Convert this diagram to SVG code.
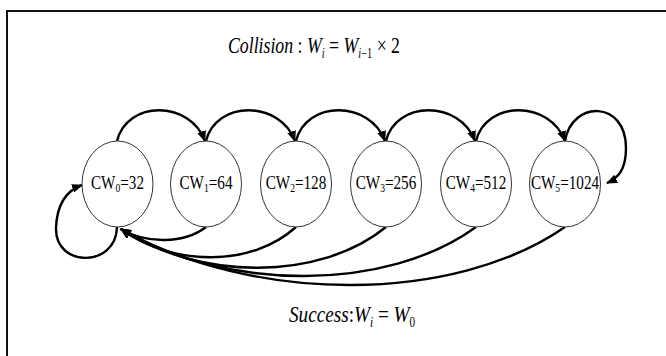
<svg xmlns="http://www.w3.org/2000/svg" width="666" height="356" viewBox="0 0 666 356">
<style>
.node ellipse{fill:#fff;stroke:#333;stroke-width:1}
.node text{font-family:"Liberation Serif","Times New Roman",serif;font-size:19px;fill:#000;text-anchor:middle}
.edge{fill:none;stroke:#000;stroke-width:2.4;marker-end:url(#ah)}
.math{font-family:"Liberation Serif","Times New Roman",serif;font-size:24px;fill:#000}
.frame{stroke:#111;stroke-width:2;fill:none}
</style>
<defs>
<marker id="ah" markerUnits="userSpaceOnUse" markerWidth="11" markerHeight="9" refX="10" refY="4.5" orient="auto">
<path d="M0,0 L11,4.5 L0,9 z" fill="#000"/>
</marker>
</defs>
<rect width="666" height="356" fill="#fff"/>
<path class="frame" d="M7,360 L7,11 L670,11"/>
<text class="math" transform="translate(228,53) scale(0.74,1)"><tspan font-style="italic">Collision</tspan><tspan> : </tspan><tspan font-style="italic">W</tspan><tspan font-size="14" font-style="italic" dy="5">i</tspan><tspan dy="-5"> = </tspan><tspan font-style="italic">W</tspan><tspan font-size="14" dy="5"><tspan font-style="italic">i</tspan>−1</tspan><tspan dy="-5"> × 2</tspan></text>
<text class="math" transform="translate(289,322) scale(0.8,1)"><tspan font-style="italic">Success</tspan><tspan>:</tspan><tspan font-style="italic">W</tspan><tspan font-size="14" font-style="italic" dy="5">i</tspan><tspan dy="-5"> = </tspan><tspan font-style="italic">W</tspan><tspan font-size="14" dy="5">0</tspan></text>
<g id="connectors">
<path class="edge" d="M117,141 C127,100 190,100 205,141"/>
<path class="edge" d="M206,141 C216,100 280,100 295,141"/>
<path class="edge" d="M296,141 C306,100 370,100 385,141"/>
<path class="edge" d="M386,141 C396,100 460,100 475,141"/>
<path class="edge" d="M476,141 C486,100 550,100 565,141"/>
<path class="edge" d="M565,141 C572,100 626,100 626,148 C626,170 618,178 607,183"/>
<path class="edge" d="M117,227 C116,268 55,268 56,228 C57,202 68,190 82,185"/>
<path class="edge" d="M206,227 C184,244 146,244 121,229"/>
<path class="edge" d="M296,227 C252,267 173,267 121,229"/>
<path class="edge" d="M386,227 C320,281 200,281 121,229"/>
<path class="edge" d="M476,227 C387,292 226,292 121,229"/>
<path class="edge" d="M565,227 C454,304 254,304 121,229"/>
</g>
<g id="n0" class="node"><ellipse cx="117.5" cy="184" rx="35.5" ry="43"/><text transform="translate(117.5,189) scale(0.8,1)">CW<tspan font-size="12" dy="3">0</tspan><tspan dy="-3">=32</tspan></text></g>
<g id="n1" class="node"><ellipse cx="206" cy="184" rx="35.5" ry="43"/><text transform="translate(206,189) scale(0.8,1)">CW<tspan font-size="12" dy="3">1</tspan><tspan dy="-3">=64</tspan></text></g>
<g id="n2" class="node"><ellipse cx="296" cy="184" rx="35.5" ry="43"/><text transform="translate(296,189) scale(0.8,1)">CW<tspan font-size="12" dy="3">2</tspan><tspan dy="-3">=128</tspan></text></g>
<g id="n3" class="node"><ellipse cx="386" cy="184" rx="35.5" ry="43"/><text transform="translate(386,189) scale(0.8,1)">CW<tspan font-size="12" dy="3">3</tspan><tspan dy="-3">=256</tspan></text></g>
<g id="n4" class="node"><ellipse cx="476" cy="184" rx="35.5" ry="43"/><text transform="translate(476,189) scale(0.8,1)">CW<tspan font-size="12" dy="3">4</tspan><tspan dy="-3">=512</tspan></text></g>
<g id="n5" class="node"><ellipse cx="565" cy="184" rx="35.5" ry="43"/><text transform="translate(565,189) scale(0.8,1)">CW<tspan font-size="12" dy="3">5</tspan><tspan dy="-3">=1024</tspan></text></g>
</svg>
